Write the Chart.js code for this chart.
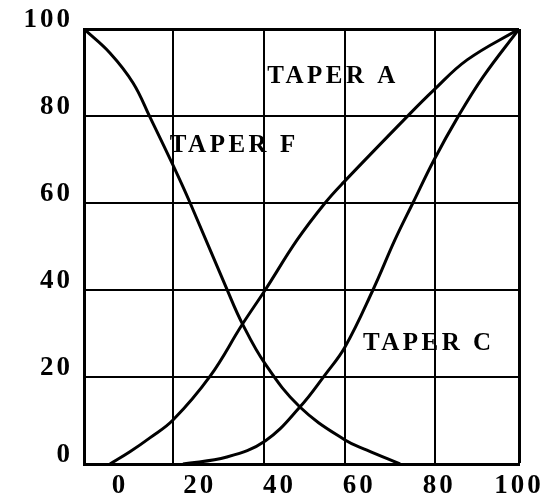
<!DOCTYPE html>
<html>
<head>
<meta charset="utf-8">
<script src="https://cdn.jsdelivr.net/npm/chart.js@4.4.1/dist/chart.umd.min.js"></script>
<style>
    html, body { margin: 0; padding: 0; background: #fff; }
    #wrap { width: 556px; height: 496px; position: relative; }
</style>
</head>
<body>
<div id="wrap"><canvas id="taperChart"></canvas></div>
<script>
// Tick labels and grid positions
const xTickLabels = [0, 20, 40, 60, 80, 100];
const yTickLabels = [0, 20, 40, 60, 80, 100];
const gridX = [13.3, 36.1, 56.4, 78.9, 100];

// Taper F (falling curve)
const taperFX = [-9, -2.5, 3.3, 7.5, 13.3, 17.6, 26.8, 30.6, 36.4, 45.1, 56.4, 61.9, 70.2];
const taperFY = [100, 94.5, 87.6, 79.8, 68.7, 60.0, 40.2, 32.4, 23.0, 13.1, 5.5, 3.2, 0];

// Taper A (upper rising curve)
const taperAX = [-2.5, 2.5, 7.5, 13.3, 22.6, 30.6, 36.4, 44.4, 51.4, 56.1, 71.9, 78.7, 87, 100];
const taperAY = [0, 2.8, 6.0, 10.1, 20.2, 32.0, 40.0, 51.5, 60.0, 64.8, 79.8, 86.0, 92.9, 100];

// Taper C (lower rising curve)
const taperCX = [15.8, 26.8, 36.4, 45.1, 51.4, 56.4, 63.4, 68.9, 73.4, 78.7, 84.7, 91, 100];
const taperCY = [0, 1.6, 5.3, 13.1, 20.5, 26.9, 40.0, 51.5, 60.0, 69.9, 79.8, 89, 100];

// Curve names written inside the plot (data coordinates of the text's left/middle)
const curveNames = ['TAPER A', 'TAPER F', 'TAPER C'];
const nameX = [36.9, 12.5, 60.9];
const nameY = [89.0, 73.1, 27.8];

const FONT = '"Liberation Serif", serif';

function toPoints(xs, ys) {
    return xs.map((x, i) => ({ x: x, y: ys[i] }));
}

function curve(label, xs, ys) {
    return {
        label: label,
        data: toPoints(xs, ys),
        borderColor: '#000',
        borderWidth: 3,
        pointRadius: 0,
        fill: false,
        tension: 0.4
    };
}

// Draws the typed curve names and widens letter spacing like the typewriter text
const typedText = {
    id: 'typedText',
    beforeDraw(chart) {
        chart.ctx.letterSpacing = '3px';
    },
    afterDatasetsDraw(chart) {
        const ctx = chart.ctx;
        const xs = chart.scales.x;
        const ys = chart.scales.y;
        ctx.save();
        ctx.letterSpacing = '3.5px';
        ctx.font = 'bold 25px ' + FONT;
        ctx.fillStyle = '#000';
        ctx.textAlign = 'left';
        ctx.textBaseline = 'middle';
        curveNames.forEach((name, i) => {
            ctx.fillText(name, xs.getPixelForValue(nameX[i]), ys.getPixelForValue(nameY[i]));
        });
        ctx.restore();
    }
};

function gridWidth(c) {
    return c.tick && c.tick.value === 100 ? 3 : 2;
}

const ctx = document.getElementById('taperChart').getContext('2d');
new Chart(ctx, {
    type: 'line',
    data: {
        datasets: [
            curve('Taper F', taperFX, taperFY),
            curve('Taper A', taperAX, taperAY),
            curve('Taper C', taperCX, taperCY)
        ]
    },
    options: {
        responsive: true,
        maintainAspectRatio: false,
        animation: false,
        layout: { padding: { top: 29, right: 37, bottom: 0, left: 0 } },
        plugins: {
            legend: { display: false },
            tooltip: { enabled: false }
        },
        scales: {
            x: {
                type: 'linear',
                position: 'bottom',
                weight: 0,
                min: -9,
                max: 100,
                afterBuildTicks: axis => { axis.ticks = gridX.map(v => ({ value: v })); },
                ticks: { display: false },
                grid: { color: '#000', lineWidth: gridWidth, drawTicks: false },
                border: { display: true, color: '#000', width: 3 }
            },
            xLabels: {
                type: 'linear',
                position: 'bottom',
                weight: 1,
                min: -9,
                max: 100,
                afterBuildTicks: axis => { axis.ticks = xTickLabels.map(v => ({ value: v })); },
                afterFit: axis => { axis.height = 32; },
                grid: { display: false, drawTicks: false },
                border: { display: false },
                ticks: {
                    color: '#000',
                    font: { family: FONT, size: 27, weight: 'bold' },
                    padding: 6,
                    autoSkip: false,
                    maxRotation: 0
                }
            },
            y: {
                type: 'linear',
                min: 0,
                max: 100,
                afterBuildTicks: axis => { axis.ticks = yTickLabels.map(v => ({ value: v })); },
                afterFit: axis => { axis.width = 84; },
                grid: { color: '#000', lineWidth: gridWidth, drawTicks: false },
                border: { display: true, color: '#000', width: 3 },
                ticks: {
                    color: '#000',
                    font: { family: FONT, size: 27, weight: 'bold' },
                    padding: 11,
                    labelOffset: -9
                }
            }
        }
    },
    plugins: [typedText]
});
</script>
</body>
</html>
